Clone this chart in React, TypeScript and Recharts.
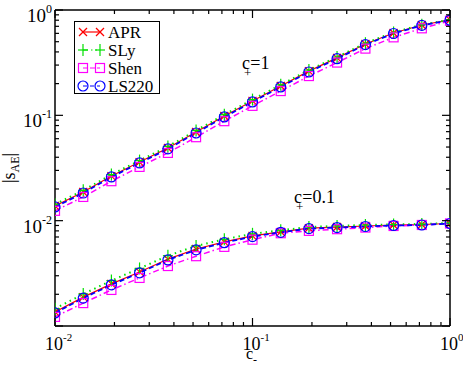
import { LineChart, Line, XAxis, YAxis } from 'recharts'

// c_- sample points (log spaced, 7 per decade)
const CM = [0.01, 0.0139, 0.0193, 0.0268, 0.0373, 0.0518, 0.072, 0.1, 0.139, 0.193, 0.268, 0.373, 0.518, 0.72, 1]

// c_+ = 1
const APR_1 = [0.0138, 0.0187, 0.0265, 0.036, 0.049, 0.0695, 0.0986, 0.137, 0.19, 0.263, 0.351, 0.476, 0.605, 0.72, 0.805]
const SLY_1 = [0.0143, 0.0194, 0.0274, 0.0372, 0.0506, 0.0717, 0.1015, 0.141, 0.195, 0.269, 0.358, 0.484, 0.612, 0.726, 0.808]
const SHEN_1 = [0.0124, 0.0168, 0.0237, 0.0324, 0.044, 0.062, 0.088, 0.123, 0.17, 0.236, 0.317, 0.43, 0.55, 0.67, 0.79]
const LS220_1 = [0.0135, 0.0183, 0.026, 0.0353, 0.048, 0.068, 0.0966, 0.134, 0.186, 0.258, 0.345, 0.469, 0.598, 0.714, 0.8]

// c_+ = 0.1
const APR_01 = [0.00136, 0.00188, 0.00251, 0.00326, 0.00432, 0.00538, 0.00628, 0.00716, 0.00782, 0.0085, 0.0087, 0.0089, 0.0091, 0.0092, 0.0094]
const SLY_01 = [0.00146, 0.00201, 0.0027, 0.00352, 0.00465, 0.00575, 0.00665, 0.0075, 0.0081, 0.0087, 0.0089, 0.0091, 0.0092, 0.0093, 0.0095]
const SHEN_01 = [0.00122, 0.00165, 0.0022, 0.00286, 0.00371, 0.0046, 0.00564, 0.0066, 0.0076, 0.008, 0.0083, 0.0086, 0.0089, 0.0091, 0.0094]
const LS220_01 = [0.00133, 0.00184, 0.00246, 0.0032, 0.00424, 0.00528, 0.00618, 0.00706, 0.00775, 0.0084, 0.0086, 0.0088, 0.009, 0.0091, 0.0094]

const X_TICKS = [0.01, 0.02, 0.03, 0.04, 0.05, 0.06, 0.07, 0.08, 0.09, 0.1, 0.2, 0.3, 0.4, 0.5, 0.6, 0.7, 0.8, 0.9, 1]
const Y_TICKS = [0.001, 0.002, 0.003, 0.004, 0.005, 0.006, 0.007, 0.008, 0.009, 0.01, 0.02, 0.03, 0.04, 0.05, 0.06, 0.07, 0.08, 0.09, 0.1, 0.2, 0.3, 0.4, 0.5, 0.6, 0.7, 0.8, 0.9, 1]

const data = CM.map((c, i) => ({
  cm: c,
  apr1: APR_1[i], sly1: SLY_1[i], shen1: SHEN_1[i], ls1: LS220_1[i],
  apr01: APR_01[i], sly01: SLY_01[i], shen01: SHEN_01[i], ls01: LS220_01[i],
}))

const FONT = '"Liberation Serif", "Times New Roman", serif'
const RED = '#ff0000'
const GREEN = '#00e000'
const MAGENTA = '#ff00ff'
const BLUE = '#0000ff'

const isMajor = (v: number) => Math.abs(Math.log10(v) - Math.round(Math.log10(v))) < 1e-6
const expOf = (v: number) => String(Math.round(Math.log10(v)))

// markers
const Cross = ({ cx, cy }: any) => (
  <g stroke={RED} strokeWidth={1.2}>
    <line x1={cx - 4} y1={cy - 4} x2={cx + 4} y2={cy + 4} />
    <line x1={cx - 4} y1={cy + 4} x2={cx + 4} y2={cy - 4} />
  </g>
)
const Plus = ({ cx, cy }: any) => (
  <g stroke={GREEN} strokeWidth={1.2}>
    <line x1={cx - 5} y1={cy} x2={cx + 5} y2={cy} />
    <line x1={cx} y1={cy - 6} x2={cx} y2={cy + 6} />
  </g>
)
const Square = ({ cx, cy }: any) => (
  <rect x={cx - 4.5} y={cy - 4.5} width={9} height={9} fill="none" stroke={MAGENTA} strokeWidth={1.2} />
)
const Circle = ({ cx, cy }: any) => (
  <circle cx={cx} cy={cy} r={5} fill="none" stroke={BLUE} strokeWidth={1.2} />
)

const dotOf = (M: any) => (p: any) => <M key={p.index} cx={p.cx} cy={p.cy} />

// ticks point inward, labels only on decades
const LeftTick = ({ x, y, payload }: any) => {
  const v = payload.value
  const maj = isMajor(v)
  return (
    <g>
      <line x1={x} x2={x + (maj ? 8 : 4)} y1={y} y2={y} stroke="#000" strokeWidth={1.2} />
      {maj && v > 0.002 && (
        <text x={x - 3} y={y + 12} textAnchor="end" fontFamily={FONT} fontSize={19} fill="#000">
          10<tspan fontSize={12} dy={-9}>{expOf(v)}</tspan>
        </text>
      )}
    </g>
  )
}
const RightTick = ({ x, y, payload }: any) => {
  const maj = isMajor(payload.value)
  return <line x1={x} x2={x - (maj ? 8 : 4)} y1={y} y2={y} stroke="#000" strokeWidth={1.2} />
}
const BottomTick = ({ x, y, payload }: any) => {
  const v = payload.value
  const maj = isMajor(v)
  return (
    <g>
      <line x1={x} x2={x} y1={y} y2={y - (maj ? 8 : 4)} stroke="#000" strokeWidth={1.2} />
      {maj && (
        <text x={x - 10} y={y + 24} fontFamily={FONT} fontSize={18} fill="#000">
          10<tspan fontSize={11} dy={-9}>{expOf(v)}</tspan>
        </text>
      )}
    </g>
  )
}
const TopTick = ({ x, y, payload }: any) => {
  const maj = isMajor(payload.value)
  return <line x1={x} x2={x} y1={y} y2={y + (maj ? 8 : 4)} stroke="#000" strokeWidth={1.2} />
}

const LEGEND = [
  { name: 'APR', color: RED, dash: undefined, M: Cross },
  { name: 'SLy', color: GREEN, dash: '5 3 1.5 3 1.5 3', M: Plus },
  { name: 'Shen', color: MAGENTA, dash: '5 2', M: Square },
  { name: 'LS220', color: BLUE, dash: '4 3', M: Circle },
]

const axisLine = { stroke: '#000', strokeWidth: 1.5 }

export default function App() {
  return (
    <div style={{ position: 'absolute', left: 0, top: 0, width: 463, height: 367, background: '#fff' }}>
      <LineChart width={463} height={367} data={data} margin={{ top: 9, right: 12, bottom: 40, left: 54 }}>
        <XAxis dataKey="cm" type="number" scale="log" domain={[0.01, 1]} allowDataOverflow ticks={X_TICKS}
          interval={0} height={1} tickSize={0} tickMargin={0} tickLine={false} axisLine={axisLine} tick={BottomTick} />
        <XAxis xAxisId="top" orientation="top" dataKey="cm" type="number" scale="log" domain={[0.01, 1]} allowDataOverflow
          ticks={X_TICKS} interval={0} height={1} tickSize={0} tickMargin={0} tickLine={false} axisLine={axisLine} tick={TopTick} />
        <YAxis type="number" scale="log" domain={[0.001, 1]} allowDataOverflow ticks={Y_TICKS} interval={0}
          width={1} tickSize={0} tickMargin={0} tickLine={false} axisLine={axisLine} tick={LeftTick} />
        <YAxis yAxisId="right" orientation="right" type="number" scale="log" domain={[0.001, 1]} allowDataOverflow
          ticks={Y_TICKS} interval={0} width={1} tickSize={0} tickMargin={0} tickLine={false} axisLine={axisLine} tick={RightTick} />

        <Line dataKey="apr1" stroke={RED} strokeWidth={1.2} dot={dotOf(Cross)} activeDot={false} isAnimationActive={false} />
        <Line dataKey="sly1" stroke={GREEN} strokeWidth={2} strokeDasharray="1.5 4" dot={dotOf(Plus)} activeDot={false} isAnimationActive={false} />
        <Line dataKey="shen1" stroke={MAGENTA} strokeWidth={1.5} strokeDasharray="6 3 1.5 3" dot={dotOf(Square)} activeDot={false} isAnimationActive={false} />
        <Line dataKey="ls1" stroke={BLUE} strokeWidth={1.8} strokeDasharray="5 3" dot={dotOf(Circle)} activeDot={false} isAnimationActive={false} />

        <Line dataKey="apr01" stroke={RED} strokeWidth={1.2} dot={dotOf(Cross)} activeDot={false} isAnimationActive={false} />
        <Line dataKey="sly01" stroke={GREEN} strokeWidth={2} strokeDasharray="1.5 4" dot={dotOf(Plus)} activeDot={false} isAnimationActive={false} />
        <Line dataKey="shen01" stroke={MAGENTA} strokeWidth={1.5} strokeDasharray="6 3 1.5 3" dot={dotOf(Square)} activeDot={false} isAnimationActive={false} />
        <Line dataKey="ls01" stroke={BLUE} strokeWidth={1.8} strokeDasharray="5 3" dot={dotOf(Circle)} activeDot={false} isAnimationActive={false} />
      </LineChart>

      <svg width={463} height={367} style={{ position: 'absolute', left: 0, top: 0, pointerEvents: 'none' }}>
        {/* legend */}
        <rect x={74.5} y={21.5} width={85} height={72} fill="#fff" stroke="#000" strokeWidth={1} />
        {LEGEND.map((l, i) => {
          const cy = 32 + i * 18
          return (
            <g key={l.name}>
              <line x1={83} x2={100} y1={cy} y2={cy} stroke={l.color} strokeWidth={1.2} strokeDasharray={l.dash} />
              <l.M cx={83} cy={cy} />
              <l.M cx={100} cy={cy} />
              <text x={108} y={cy + 6} fontFamily={FONT} fontSize={17} fill="#000">{l.name}</text>
            </g>
          )
        })}

        {/* curve annotations */}
        <g fontFamily={FONT} fill="#000">
          <text x={242} y={69} fontSize={18}>
            c<tspan fontSize={13} dx={-6} dy={8}>+</tspan><tspan dx={-1} dy={-8}>=1</tspan>
          </text>
          <text x={294} y={203} fontSize={18}>
            c<tspan fontSize={13} dx={-6} dy={8}>+</tspan><tspan dx={-1} dy={-8}>=0.1</tspan>
          </text>

          {/* x axis title */}
          <text x={246} y={359} fontSize={16}>
            c<tspan fontSize={12} dy={5}>-</tspan>
          </text>

          {/* y axis title */}
          <text transform="rotate(-90)" x={-183} y={15} fontSize={18}>
            |s<tspan fontSize={12} dy={4}>AE</tspan><tspan dy={-4}>|</tspan>
          </text>
        </g>
      </svg>
    </div>
  )
}
